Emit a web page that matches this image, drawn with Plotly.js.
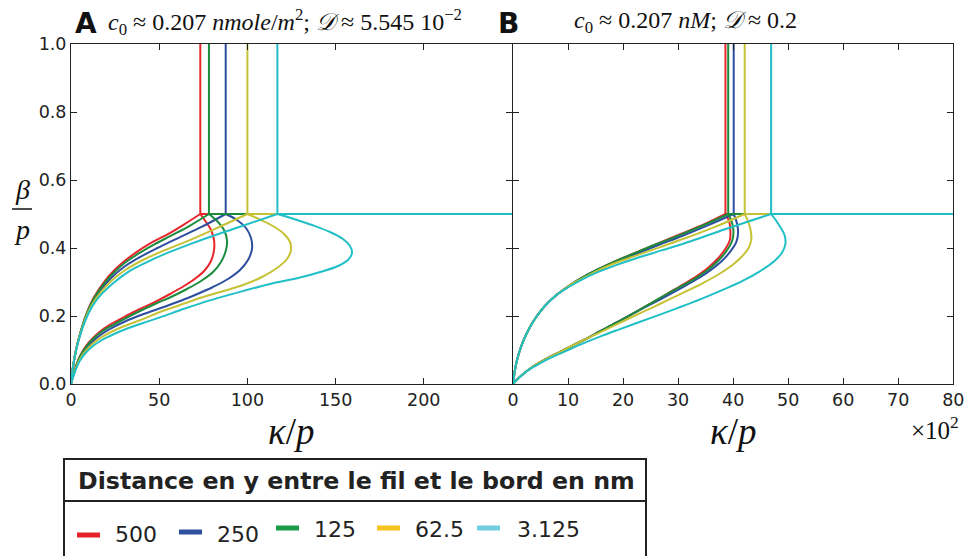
<!DOCTYPE html>
<html><head><meta charset="utf-8">
<script src="https://cdn.plot.ly/plotly-3.0.1.min.js"></script>
<style>html,body{margin:0;padding:0;background:#fff}#chart{width:965px;height:556px}</style>
</head><body><div id="chart"></div>
<script>
// ---------- DATA ----------
const distances = ['500', '250', '125', '62.5', '3.125'];   // legend labels (nm)

// Panel A : kappa/p where the branches meet beta/p = 0.5
const A_vertK = [73.3, 87.7, 78.2, 100, 117];
// Panel A upper branches
const A_upK = [
  [0,1.13,2.83,5.1,7.9,11.3,15.9,21.5,28.3,36.3,45.4,55,64.6,73.3],
  [0,1.13,2.85,5.15,8,11.6,16.5,22.6,30,39,49,61,74,87.7],
  [0,1.13,2.83,5.1,7.9,11.4,16.1,21.9,29,37.5,47,57,67.5,78.2],
  [0,1.14,2.87,5.2,8.1,11.8,16.9,23.3,31,40.5,51.5,66,82,100],
  [0,1.15,2.9,5.3,8.3,12.1,17.4,24.2,32.5,42.5,54,71,92,117]
];
const A_upB = [
  [0,0.05,0.1,0.147,0.194,0.238,0.279,0.318,0.353,0.385,0.415,0.441,0.471,0.5],
  [0,0.05,0.1,0.146,0.192,0.234,0.274,0.311,0.344,0.373,0.4,0.43,0.462,0.5],
  [0,0.05,0.1,0.147,0.193,0.236,0.277,0.315,0.35,0.381,0.41,0.437,0.466,0.5],
  [0,0.05,0.1,0.146,0.191,0.232,0.27,0.305,0.336,0.364,0.39,0.42,0.457,0.5],
  [0,0.05,0.1,0.145,0.189,0.229,0.265,0.298,0.33,0.357,0.384,0.418,0.456,0.5]
];
// Panel A lower branches
const A_loK = [
  [0,1.13,2.83,5.1,8.5,12.47,17.57,23.81,31.18,39.12,47.62,56.12,64.06,70.86,75.96,79.37,81.07,81.07,79.37,76.53,73.3],
  [0,1.13,2.83,5.1,8.5,12.47,17.57,23.81,31.18,39.68,49.32,59.52,70.29,80.5,89,95.8,100.34,102.61,102.04,99.21,94.1,87.7],
  [0,1.13,2.83,5.1,8.5,12.47,17.57,23.81,31.18,39.12,47.62,56.69,65.76,73.7,80.5,85.03,87.87,88.44,86.73,82.77,78.2],
  [0,1.13,2.83,5.1,8.5,12.47,17.57,23.81,31.18,40.25,50.45,61.79,73.13,85.6,97.51,108.28,116.78,122.45,124.72,124.15,120.75,114.51,107.14,100],
  [0,1.13,2.83,5.1,8.5,12.47,17.57,23.81,31.18,40.82,50.45,64.63,78.8,95.8,112.81,129.82,142.29,151.36,157.03,159.3,158.16,154.2,146.83,136.62,126.42,117]
];
const A_loB = [
  [0,0.0235,0.0529,0.0824,0.1118,0.1353,0.1588,0.1794,0.2,0.2206,0.2412,0.2647,0.2882,0.3118,0.3353,0.3618,0.3941,0.4235,0.4529,0.4765,0.5],
  [0,0.0221,0.05,0.0779,0.1044,0.1265,0.1471,0.1662,0.1853,0.2029,0.2206,0.2397,0.2618,0.2853,0.3088,0.3353,0.3647,0.3971,0.4294,0.4588,0.4824,0.5],
  [0,0.0235,0.0515,0.0809,0.1088,0.1324,0.1544,0.1735,0.1941,0.2147,0.2353,0.2559,0.2794,0.3029,0.3294,0.3588,0.3941,0.4235,0.4529,0.4794,0.5],
  [0,0.0206,0.0471,0.0735,0.0985,0.1191,0.1382,0.1559,0.1721,0.1897,0.2118,0.2324,0.2529,0.2721,0.2912,0.3147,0.3412,0.3676,0.3941,0.4176,0.4412,0.4647,0.4838,0.5],
  [0,0.0191,0.0441,0.0691,0.0926,0.1118,0.1294,0.1456,0.1618,0.1794,0.196,0.222,0.246,0.271,0.294,0.3132,0.3309,0.3471,0.3647,0.3853,0.4059,0.4265,0.4471,0.4676,0.4853,0.5]
];

// Panel B (kappa/p in units of 10^2)
const B_vertK = [38.6, 40.1, 39.1, 42.1, 46.9];
const B_upK = [
  [0,0.236,0.582,1.091,1.764,2.618,3.673,4.945,6.4,8.127,10.127,12.49,15.22,18.31,21.95,26.13,30.49,34.67,38.6],
  [0,0.236,0.582,1.091,1.764,2.618,3.673,4.945,6.4,8.127,10.127,12.49,15.22,18.35,22.05,26.3,30.8,35.3,40.1],
  [0,0.236,0.582,1.091,1.764,2.618,3.673,4.945,6.4,8.127,10.127,12.49,15.22,18.31,21.95,26.13,30.6,34.9,39.1],
  [0,0.236,0.582,1.091,1.764,2.618,3.673,4.945,6.4,8.127,10.127,12.55,15.3,18.45,22.2,26.6,31.5,36.7,42.1],
  [0,0.236,0.582,1.091,1.764,2.618,3.673,4.945,6.4,8.127,10.2,12.6,15.4,18.6,22.4,27,32.3,38.5,46.9]
];
const B_upB = [
  [0,0.0294,0.0603,0.0912,0.1221,0.1529,0.1838,0.2132,0.2397,0.2647,0.2882,0.3118,0.3353,0.3588,0.3838,0.4118,0.4412,0.4691,0.5],
  [0,0.0294,0.0603,0.0912,0.1221,0.1529,0.1838,0.2132,0.2397,0.2647,0.2882,0.3118,0.3353,0.357,0.381,0.408,0.436,0.466,0.5],
  [0,0.0294,0.0603,0.0912,0.1221,0.1529,0.1838,0.2132,0.2397,0.2647,0.2882,0.3118,0.3353,0.3588,0.3838,0.4118,0.44,0.469,0.5],
  [0,0.0294,0.0603,0.0912,0.1221,0.1529,0.1838,0.2132,0.2397,0.2647,0.2882,0.31,0.333,0.355,0.377,0.402,0.43,0.462,0.5],
  [0,0.0294,0.0603,0.0912,0.1221,0.1529,0.1838,0.2132,0.2397,0.2647,0.286,0.308,0.329,0.349,0.37,0.393,0.42,0.455,0.5]
];
const B_loK = [
  [0,0.855,1.945,3.4,5.218,7.4,9.945,12.85,15.76,18.85,21.95,25.04,27.95,31.04,33.4,35.4,37.22,38.58,39.4,39.49,39.31,38.6],
  [0,0.855,1.945,3.4,5.218,7.4,9.945,12.85,15.76,18.85,21.95,25.1,28.05,31.2,33.7,35.9,37.9,39.5,40.6,40.9,40.7,40.1],
  [0,0.855,1.945,3.4,5.218,7.4,9.945,12.85,15.76,18.85,21.95,25.04,27.95,31.15,33.55,35.6,37.5,38.95,39.85,40.05,39.75,39.1],
  [0,0.855,1.945,3.4,5.218,7.4,9.945,12.85,15.8,18.9,22,25.2,28.3,31.5,34.5,37.3,39.7,41.6,42.8,43.3,43.2,42.8,42.1],
  [0,0.855,1.945,3.4,5.218,7.4,9.945,12.85,15.9,19.2,22.6,26.2,30,34,38,41.8,45,47.4,48.9,49.5,49.3,48.5,47.7,46.9]
];
const B_loB = [
  [0,0.0147,0.0309,0.0485,0.0662,0.0853,0.1059,0.1294,0.1544,0.1809,0.2088,0.2368,0.2647,0.2941,0.3176,0.3412,0.3691,0.3971,0.4235,0.4529,0.4765,0.5],
  [0,0.0147,0.0309,0.0485,0.0662,0.0853,0.1059,0.1294,0.1544,0.1809,0.2088,0.2348,0.26,0.288,0.311,0.335,0.361,0.39,0.419,0.445,0.472,0.5],
  [0,0.0147,0.0309,0.0485,0.0662,0.0853,0.1059,0.1294,0.1544,0.1809,0.2088,0.2368,0.2647,0.2921,0.315,0.338,0.366,0.395,0.423,0.452,0.477,0.5],
  [0,0.0147,0.0309,0.0485,0.0662,0.0853,0.1059,0.1294,0.152,0.176,0.2,0.224,0.248,0.273,0.297,0.322,0.348,0.375,0.4,0.425,0.45,0.475,0.5],
  [0,0.0145,0.0303,0.0472,0.0638,0.081,0.0995,0.12,0.14,0.16,0.18,0.201,0.224,0.249,0.276,0.304,0.333,0.36,0.387,0.413,0.44,0.463,0.483,0.5]
];

const xTicksA = [0, 50, 100, 150, 200];
const xTicksB = [0, 10, 20, 30, 40, 50, 60, 70, 80];
const yTicks = [0, 0.2, 0.4, 0.6, 0.8, 1.0];
const yTickLabels = ['0.0', '0.2', '0.4', '0.6', '0.8', '1.0'];
const xMaxA = 250, xMaxB = 80;

// ---------- STYLE ----------
const W = 965, H = 556;
const PX = x => x / W, PY = y => 1 - y / H;
const curveColors = ['#e8262b', '#2d4e9f', '#1b8c3e', '#c6c235', '#20bfc6'];
const keyColors = ['#e6212a', '#2e509e', '#1a9a48', '#f6c21c', '#70cde0'];
const SANS = 'DejaVu Sans', SERIF = 'Liberation Serif';

const traces = [];
function addPanel(vertK, upK, upB, loK, loB, xmax, xa, ya) {
  for (let i = 0; i < distances.length; i++) {
    traces.push({
      type: 'scatter', mode: 'lines', xaxis: xa, yaxis: ya, showlegend: false, hoverinfo: 'skip',
      x: [vertK[i], vertK[i], null, vertK[i], xmax],
      y: [1, 0.5, null, 0.5, 0.5],
      line: {color: curveColors[i], width: 2}
    });
    traces.push({
      type: 'scatter', mode: 'lines', xaxis: xa, yaxis: ya, showlegend: false, hoverinfo: 'skip',
      name: distances[i],
      x: upK[i].concat([null], loK[i]),
      y: upB[i].concat([null], loB[i]),
      connectgaps: false,
      line: {color: curveColors[i], width: 2, shape: 'spline', smoothing: 1}
    });
  }
}
addPanel(A_vertK, A_upK, A_upB, A_loK, A_loB, xMaxA, 'x', 'y');
addPanel(B_vertK, B_upK, B_upB, B_loK, B_loB, xMaxB, 'x2', 'y2');

const axBase = {
  ticks: 'inside', ticklen: 6, tickwidth: 1, tickcolor: '#222',
  mirror: 'ticks', showline: true, linecolor: '#222', linewidth: 1,
  showgrid: false, zeroline: false, fixedrange: true,
  tickfont: {family: SANS, size: 17.5, color: '#222'}
};
const yDomain = [PY(384), PY(44)];

const ann = [];
function txt(x, y, text, size, opts) {
  ann.push(Object.assign({xref: 'paper', yref: 'paper', x: PX(x), y: PY(y), text: text,
    showarrow: false, xanchor: 'center', yanchor: 'middle',
    font: {family: SERIF, size: size, color: '#111'}}, opts || {}));
}
txt(86, 24, '<b>A</b>', 28, {font: {family: SANS, size: 28, color: '#111'}});
txt(106, 22, '<i>c</i><sub>0</sub> ≈ 0.207 <i>nmole</i>/<i>m</i><sup>2</sup>; <i>𝒟</i> ≈ 5.545 10<sup>−2</sup>', 24, {xanchor: 'left'});
txt(508, 24, '<b>B</b>', 28, {font: {family: SANS, size: 28, color: '#111'}});
txt(685, 22, '<i>c</i><sub>0</sub> ≈ 0.207 <i>nM</i>; <i>𝒟</i> ≈ 0.2', 24);
txt(291.5, 431, '<i>κ</i>/<i>p</i>', 37);
txt(733, 431, '<i>κ</i>/<i>p</i>', 37);
txt(935, 428, '×10<sup>2</sup>', 25);
txt(22, 189, '<i>β</i>', 28);
txt(22, 229, '<i>p</i>', 28);

// legend block
txt(356, 481, '<b>Distance en y entre le fil et le bord en nm</b>', 23.7, {font: {family: SANS, size: 23.7, color: '#222'}});
const keyX = [77, 179, 276, 377, 477];
const keyY = [535, 532, 528, 528, 528];
const labY = [534, 534, 529, 529, 529];
const labX = [113, 215, 312, 413, 515];
const shapes = [
  {type: 'line', xref: 'paper', yref: 'paper', x0: PX(12), x1: PX(32), y0: PY(209), y1: PY(209), line: {color: '#111', width: 1.5}},
  {type: 'rect', xref: 'paper', yref: 'paper', x0: PX(64), x1: PX(646), y0: PY(459), y1: PY(600), line: {color: '#222', width: 2}},
  {type: 'line', xref: 'paper', yref: 'paper', x0: PX(64), x1: PX(646), y0: PY(501), y1: PY(501), line: {color: '#222', width: 2}}
];
for (let i = 0; i < distances.length; i++) {
  shapes.push({type: 'line', xref: 'paper', yref: 'paper', x0: PX(keyX[i]), x1: PX(keyX[i] + 23),
    y0: PY(keyY[i]), y1: PY(keyY[i]), line: {color: keyColors[i], width: 5}});
  txt(labX[i], labY[i], distances[i], 22, {xanchor: 'left', font: {family: SANS, size: 22, color: '#222'}});
}

const layout = {
  width: W, height: H, autosize: false,
  margin: {l: 0, r: 0, t: 0, b: 0, pad: 0},
  paper_bgcolor: '#fff', plot_bgcolor: '#fff', showlegend: false,
  xaxis: Object.assign({}, axBase, {domain: [PX(71), PX(512)], range: [0, xMaxA], tickvals: xTicksA, anchor: 'y'}),
  yaxis: Object.assign({}, axBase, {domain: yDomain, range: [0, 1], tickvals: yTicks, ticktext: yTickLabels, anchor: 'x'}),
  xaxis2: Object.assign({}, axBase, {domain: [PX(513), PX(953.3)], range: [0, xMaxB], tickvals: xTicksB, anchor: 'y2'}),
  yaxis2: Object.assign({}, axBase, {domain: yDomain, range: [0, 1], tickvals: yTicks, showticklabels: false, anchor: 'x2'}),
  annotations: ann, shapes: shapes
};
Plotly.newPlot('chart', traces, layout, {displayModeBar: false, staticPlot: true});
</script></body></html>
